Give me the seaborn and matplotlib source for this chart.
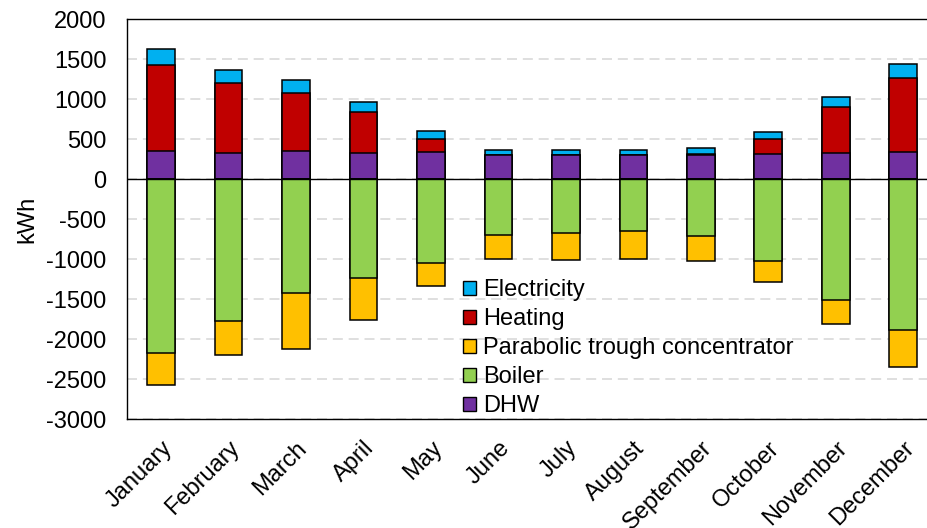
import numpy as np
import pandas as pd
import matplotlib
matplotlib.use('Agg')
import matplotlib.pyplot as plt
from matplotlib.patches import Patch
import seaborn as sns

# Monthly energy balance (kWh)
months = ['January', 'February', 'March', 'April', 'May', 'June',
          'July', 'August', 'September', 'October', 'November', 'December']
dhw = [354, 325, 354, 329, 342, 308, 308, 308, 300, 321, 325, 342]
heating = [1075, 883, 729, 513, 166, 0, 0, 0, 20, 179, 575, 929]
electricity = [196, 154, 154, 125, 92, 59, 63, 63, 72, 87, 129, 171]
boiler = [-2175, -1779, -1425, -1237, -1054, -704, -671, -642, -712, -1025, -1517, -1883]
ptc = [-400, -425, -700, -530, -279, -300, -341, -358, -313, -262, -295, -463]

colors = {
    'Electricity': '#00B0F0',
    'Heating': '#C00000',
    'Parabolic trough concentrator': '#FFC000',
    'Boiler': '#92D050',
    'DHW': '#7030A0',
}

df = pd.DataFrame({'month': months, 'DHW': dhw, 'Heating': heating,
                   'Electricity': electricity, 'Boiler': boiler,
                   'Parabolic trough concentrator': ptc})
# cumulative tops for the overlap-stacking trick
df['pos_heat'] = df['DHW'] + df['Heating']
df['pos_total'] = df['pos_heat'] + df['Electricity']
df['neg_total'] = df['Boiler'] + df['Parabolic trough concentrator']

sns.set_style('white')
plt.rcParams['font.family'] = ['Liberation Sans', 'DejaVu Sans']
plt.rcParams['axes.unicode_minus'] = False
plt.rcParams['text.color'] = 'black'
plt.rcParams['axes.labelcolor'] = 'black'
FS = 17

fig = plt.figure(figsize=(9.27, 5.28), dpi=100)
ax = fig.add_axes([127.3 / 927, 109 / 528, (937 - 127.3) / 927, 399.7 / 528])

bar_kw = dict(width=0.41, edgecolor='black', linewidth=1.1, errorbar=None, order=months)
layers = [
    ('pos_total', 'Electricity'),
    ('pos_heat', 'Heating'),
    ('DHW', 'DHW'),
    ('neg_total', 'Parabolic trough concentrator'),
    ('Boiler', 'Boiler'),
]
for col, name in layers:
    sns.barplot(data=df, x='month', y=col, color=colors[name], saturation=1, ax=ax, **bar_kw)

ax.axhline(0, color='black', lw=1.0, zorder=3)

ax.set_ylim(-3000, 2000)
ax.set_yticks(np.arange(-3000, 2001, 500))
ax.set_xlim(-0.5, 11.5)
ax.yaxis.grid(True, color='#d9d9d9', lw=1.2, ls=(0, (6, 3.5)))
ax.set_axisbelow(True)

for s in ax.spines.values():
    s.set_color('black')
    s.set_linewidth(1.0)

ax.tick_params(axis='y', length=0, pad=15, labelsize=FS, colors='black')
ax.tick_params(axis='x', length=0, pad=13, labelsize=FS, colors='black')
plt.setp(ax.get_xticklabels(), rotation=45, ha='right', rotation_mode='anchor')
ax.set_xlabel('')
ax.set_ylabel('kWh', fontsize=FS, labelpad=6, color='black')

order = ['Electricity', 'Heating', 'Parabolic trough concentrator', 'Boiler', 'DHW']
handles = [Patch(facecolor=colors[n], edgecolor='black', linewidth=1.0) for n in order]
ax.legend(handles, order, loc='upper left', bbox_to_anchor=(463 / 927, 1 - 279 / 528),
          bbox_transform=fig.transFigure, frameon=False, fontsize=FS,
          borderpad=0, borderaxespad=0, labelspacing=0.3,
          handlelength=0.55, handleheight=0.55, handletextpad=0.3)

fig.savefig('out.png', dpi=100)
